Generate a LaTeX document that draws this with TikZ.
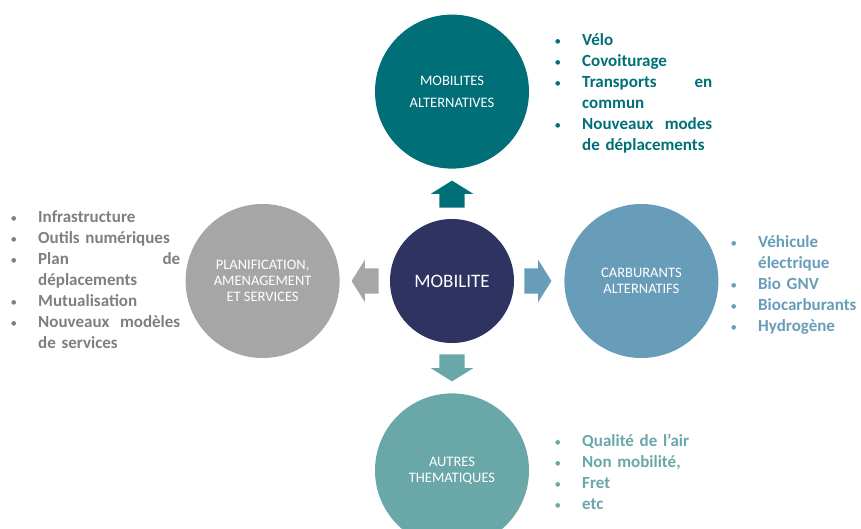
\documentclass[tikz,border=0pt]{standalone}
\usepackage{fontspec}
\setmainfont{Carlito}
\usepackage{tikz}
\usetikzlibrary{positioning,shapes.arrows}

\definecolor{petrol}{RGB}{0,111,120}
\definecolor{navy}{RGB}{46,51,98}
\definecolor{grisc}{RGB}{166,166,166}
\definecolor{bleuc}{RGB}{104,157,186}
\definecolor{vertc}{RGB}{106,167,169}
\definecolor{grist}{RGB}{127,127,127}
\newcommand\puce{\leavevmode\llap{\fontsize{13}{21}\mdseries\textbullet\hspace{21pt}}}

\begin{document}
\begin{tikzpicture}[x=1pt, y=1pt,
  bubble/.style={circle, minimum size=154pt, inner sep=0pt, text=white, align=center, font=\fontsize{14.5}{16}\selectfont},
  blk/.style={single arrow, minimum height=27pt, inner xsep=0pt, inner ysep=12.5pt, single arrow head extend=8.5pt, single arrow tip angle=116},
  liste/.style={anchor=north west, inner sep=0pt, align=left, font=\fontsize{17}{21}\selectfont\bfseries}]
\clip (0,0) rectangle (861,528);
\fill[white] (0,0) rectangle (861,528);

\node (mob) [bubble, fill=navy, minimum size=124pt, font=\fontsize{19}{22}\selectfont] at (452,247) {MOBILITE};
\node (alt) [bubble, fill=petrol, above=50pt of mob, font=\fontsize{14.5}{22}\selectfont] {MOBILITES\\ALTERNATIVES};
\node (plan) [bubble, fill=grisc, left=50pt of mob] {PLANIFICATION,\\AMENAGEMENT\\ET SERVICES};
\node (carb) [bubble, fill=bleuc, right=50pt of mob] {CARBURANTS\\ALTERNATIFS};
\node (autres) [bubble, fill=vertc, below=50pt of mob] {AUTRES\\THEMATIQUES};

\node (aalt) [blk, fill=petrol, rotate=90, above=11pt of mob, anchor=tail] {};
\node (aplan) [blk, fill=grisc, rotate=180, left=11pt of mob, anchor=tail] {};
\node (acarb) [blk, fill=bleuc, right=10pt of mob, anchor=tail] {};
\node (aautres) [blk, fill=vertc, rotate=-90, below=11pt of mob, anchor=tail] {};

\node (lalt) [liste, text=petrol, text width=130pt] at (582,495) {\puce V\'elo\\
\puce Covoiturage\\
\puce Transports\hfill en\\
commun\\
\puce Nouveaux\hfill modes\\
de d\'eplacements};
\node (lplan) [liste, text=grist, text width=142pt] at (38,318) {\puce Infrastructure\\
\puce Outils num\'eriques\\
\puce Plan\hfill de\\
d\'eplacements\\
\puce Mutualisation\\
\puce Nouveaux\hfill mod\`eles\\
de services};
\node (lcarb) [liste, text=bleuc, text width=103pt] at (758,293) {\puce V\'ehicule\\
\'electrique\\
\puce Bio GNV\\
\puce Biocarburants\\
\puce Hydrog\`ene};
\node (lautres) [liste, text=vertc, text width=120pt] at (582,94) {\puce Qualit\'e de l’air\\
\puce Non mobilit\'e,\\
\puce Fret\\
\puce etc};
\end{tikzpicture}
\end{document}
